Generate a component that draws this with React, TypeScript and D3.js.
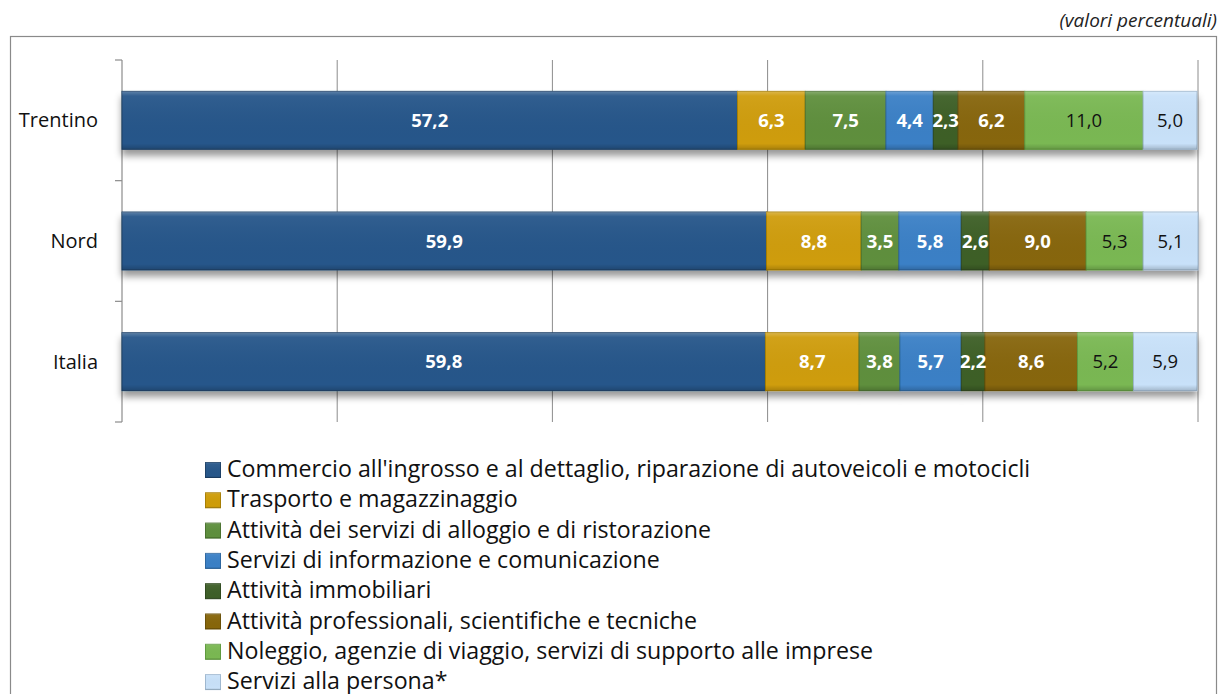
import React from "react";
import * as d3 from "d3";

const categories = ["Trentino", "Nord", "Italia"];
const seriesNames = [
  "Commercio all'ingrosso e al dettaglio, riparazione di autoveicoli e motocicli",
  "Trasporto e magazzinaggio",
  "Attività dei servizi di alloggio e di ristorazione",
  "Servizi di informazione e comunicazione",
  "Attività immobiliari",
  "Attività professionali, scientifiche e tecniche",
  "Noleggio, agenzie di viaggio, servizi di supporto alle imprese",
  "Servizi alla persona*",
];
const trentino = [57.2, 6.3, 7.5, 4.4, 2.3, 6.2, 11.0, 5.0];
const nord = [59.9, 8.8, 3.5, 5.8, 2.6, 9.0, 5.3, 5.1];
const italia = [59.8, 8.7, 3.8, 5.7, 2.2, 8.6, 5.2, 5.9];
const xTicks = [0, 20, 40, 60, 80, 100];

const colors = ["#27578a", "#cf9d08", "#5e8f3d", "#3a80c6", "#3e5f28", "#87660a", "#7ab852", "#c8e1f9"];
const strokes = ["#1d4168", "#a87f05", "#4a722f", "#2c66a0", "#2f491e", "#6a5007", "#5f9a3e", "#9fb8d0"];
const darkText = [false, false, false, false, false, false, true, true];

const W = 1221;
const H = 694;
const FONT = "'Open Sans', sans-serif";

export default function App() {
  const rows = [trentino, nord, italia];
  const x = d3.scaleLinear().domain([0, 100]).range([122, 1198]);
  const y = d3.scaleBand<string>().domain(categories).range([60, 422]).paddingInner(0.52).paddingOuter(0.26);
  const fmt = (v: number) => v.toFixed(1).replace(".", ",");

  const stacked = rows.map((vals) => {
    let acc = 0;
    return vals.map((v) => {
      const s = acc;
      acc += v;
      return { s, e: acc, v };
    });
  });

  const bandStep = (422 - 60) / categories.length;
  const tickYs = d3.range(categories.length + 1).map((i) => 60 + i * bandStep);

  return (
    <svg width={W} height={H} style={{ position: "absolute", left: 0, top: 0 }} fontFamily={FONT}>
      <defs>
        <filter id="shadow" x="-5%" y="-30%" width="110%" height="180%">
          <feDropShadow dx="0" dy="6" stdDeviation="3.5" floodColor="#000" floodOpacity="0.4" />
        </filter>
        <linearGradient id="gloss" x1="0" y1="0" x2="0" y2="1">
          <stop offset="0" stopColor="#fff" stopOpacity="0.25" />
          <stop offset="0.08" stopColor="#fff" stopOpacity="0.05" />
          <stop offset="0.9" stopColor="#000" stopOpacity="0" />
          <stop offset="1" stopColor="#000" stopOpacity="0.18" />
        </linearGradient>
      </defs>
      <rect x={0} y={0} width={W} height={H} fill="#fff" />
      <text x={1217} y={27} textAnchor="end" fontStyle="italic" fontSize={19} fill="#222">
        (valori percentuali)
      </text>
      <rect x={10.5} y={36.5} width={1206} height={H} fill="#fff" stroke="#8a8a8a" strokeWidth={1.2} />

      {xTicks.slice(1).map((t) => (
        <line key={t} x1={x(t)} x2={x(t)} y1={60} y2={422} stroke="#8c8c8c" strokeWidth={1} />
      ))}
      <line x1={122} x2={122} y1={60} y2={422} stroke="#8c8c8c" strokeWidth={1.2} />
      {tickYs.map((ty, i) => (
        <line key={i} x1={115} x2={122} y1={ty} y2={ty} stroke="#8c8c8c" strokeWidth={1.2} />
      ))}

      {categories.map((c, ci) => (
        <g key={c}>
          <text x={98} y={(y(c) as number) + y.bandwidth() / 2} dy="0.35em" textAnchor="end" fontSize={20} fill="#111">
            {c}
          </text>
          <g filter="url(#shadow)">
            {stacked[ci].map((d, si) => (
              <rect key={si} x={x(d.s)} y={y(c)} width={x(d.e) - x(d.s)} height={y.bandwidth()} fill={colors[si]} stroke={strokes[si]} strokeWidth={1} />
            ))}
          </g>
          {stacked[ci].map((d, si) => (
            <rect key={"g" + si} x={x(d.s)} y={y(c)} width={x(d.e) - x(d.s)} height={y.bandwidth()} fill="url(#gloss)" />
          ))}
          {stacked[ci].map((d, si) => (
            <text
              key={"t" + si}
              x={(x(d.s) + x(d.e)) / 2}
              y={(y(c) as number) + y.bandwidth() / 2}
              dy="0.36em"
              textAnchor="middle"
              fontSize={18.5}
              fontWeight={darkText[si] ? 400 : 700}
              fill={darkText[si] ? "#111" : "#fff"}
            >
              {fmt(d.v)}
            </text>
          ))}
        </g>
      ))}

      {seriesNames.map((n, i) => {
        const base = 477 + i * 30.3;
        return (
          <g key={n}>
            <rect x={205.5} y={base - 14.5} width={15} height={15} fill={colors[i]} stroke={strokes[i]} strokeWidth={1} />
            <rect x={205.5} y={base - 14.5} width={15} height={15} fill="url(#gloss)" />
            <text x={227} y={base} fontSize={23.2} fill="#111">
              {n}
            </text>
          </g>
        );
      })}
    </svg>
  );
}
